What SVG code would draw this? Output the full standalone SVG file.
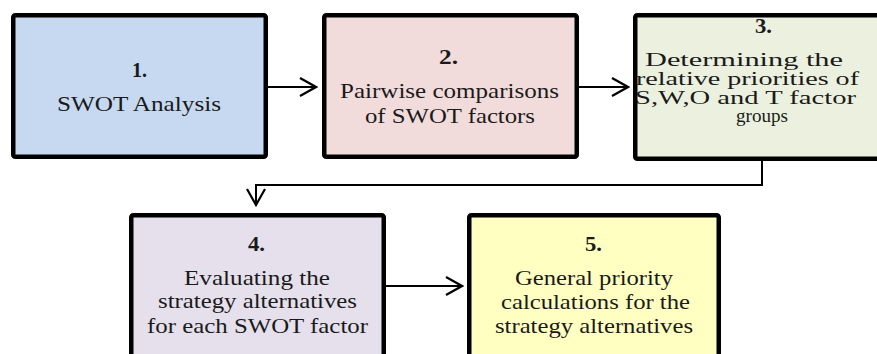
<svg xmlns="http://www.w3.org/2000/svg" width="877" height="354" viewBox="0 0 877 354">
  <style>
    .box { stroke: #000; stroke-width: 4.5; }
    .num { font-weight: bold; font-size: 21px; fill: #1a1a1a; }
    .txt { font-size: 22px; fill: #1a1a1a; }
    .txt3 { font-size: 19.5px; fill: #1a1a1a; }
    .conn { fill: none; stroke: #000; stroke-width: 2; }
  </style>
  <defs>
    <marker id="arrow" markerUnits="userSpaceOnUse" markerWidth="20" markerHeight="20" viewBox="0 0 20 20" refX="18" refY="10" orient="auto">
      <path d="M2,1 L18,10 L2,19" fill="none" stroke="#000" stroke-width="2.2"/>
    </marker>
  </defs>
  <rect width="877" height="354" fill="#fff"/>

  <g id="connectors">
    <path class="conn" d="M268,87 H316" marker-end="url(#arrow)"/>
    <path class="conn" d="M579,87 H628" marker-end="url(#arrow)"/>
    <path class="conn" d="M386,286 H462" marker-end="url(#arrow)"/>
    <path class="conn" d="M762,161 V185 H256 V205" marker-end="url(#arrow)"/>
  </g>

  <g font-family="Liberation Serif, Times New Roman, serif">
  <g id="node1">
    <rect class="box" x="13.25" y="15.25" width="252.5" height="141.5" rx="2" fill="#C6D9F1"/>
    <text class="num" x="132" y="77" textLength="15" lengthAdjust="spacingAndGlyphs">1.</text>
    <text class="txt" x="57" y="111" textLength="164" lengthAdjust="spacingAndGlyphs">SWOT Analysis</text>
  </g>

  <g id="node2">
    <rect class="box" x="324.25" y="15.25" width="252.5" height="141.5" rx="2" fill="#F2DCDB"/>
    <text class="num" x="439" y="64" textLength="19" lengthAdjust="spacingAndGlyphs">2.</text>
    <text class="txt" x="340" y="98" textLength="219" lengthAdjust="spacingAndGlyphs">Pairwise comparisons</text>
    <text class="txt" x="365" y="123" textLength="170" lengthAdjust="spacingAndGlyphs">of SWOT factors</text>
  </g>

  <g id="node3">
    <rect class="box" x="635.25" y="15.25" width="260" height="143.5" rx="2" fill="#EBF1DE"/>
    <text class="num" x="755" y="33" textLength="17" lengthAdjust="spacingAndGlyphs">3.</text>
    <text class="txt3" x="645" y="66" textLength="198" lengthAdjust="spacingAndGlyphs">Determining the</text>
    <text class="txt3" x="636" y="85" textLength="223" lengthAdjust="spacingAndGlyphs">relative priorities of</text>
    <text class="txt3" x="635" y="104" textLength="221" lengthAdjust="spacingAndGlyphs">S,W,O and T factor</text>
    <text class="txt3" x="736" y="122" textLength="52" lengthAdjust="spacingAndGlyphs">groups</text>
  </g>

  <g id="node4">
    <rect class="box" x="131.25" y="215.25" width="252.5" height="160" rx="2" fill="#E5E0EC"/>
    <text class="num" x="248" y="251" textLength="17" lengthAdjust="spacingAndGlyphs">4.</text>
    <text class="txt" x="184" y="285" textLength="146" lengthAdjust="spacingAndGlyphs">Evaluating the</text>
    <text class="txt" x="158" y="308" textLength="199" lengthAdjust="spacingAndGlyphs">strategy alternatives</text>
    <text class="txt" x="147" y="333" textLength="221" lengthAdjust="spacingAndGlyphs">for each SWOT factor</text>
  </g>

  <g id="node5">
    <rect class="box" x="469.25" y="215.25" width="249.5" height="160" rx="2" fill="#FFFFC1"/>
    <text class="num" x="585" y="251" textLength="17" lengthAdjust="spacingAndGlyphs">5.</text>
    <text class="txt" x="515" y="285" textLength="158" lengthAdjust="spacingAndGlyphs">General priority</text>
    <text class="txt" x="501" y="309" textLength="189" lengthAdjust="spacingAndGlyphs">calculations for the</text>
    <text class="txt" x="495" y="333" textLength="198" lengthAdjust="spacingAndGlyphs">strategy alternatives</text>
  </g>
  </g>
</svg>
